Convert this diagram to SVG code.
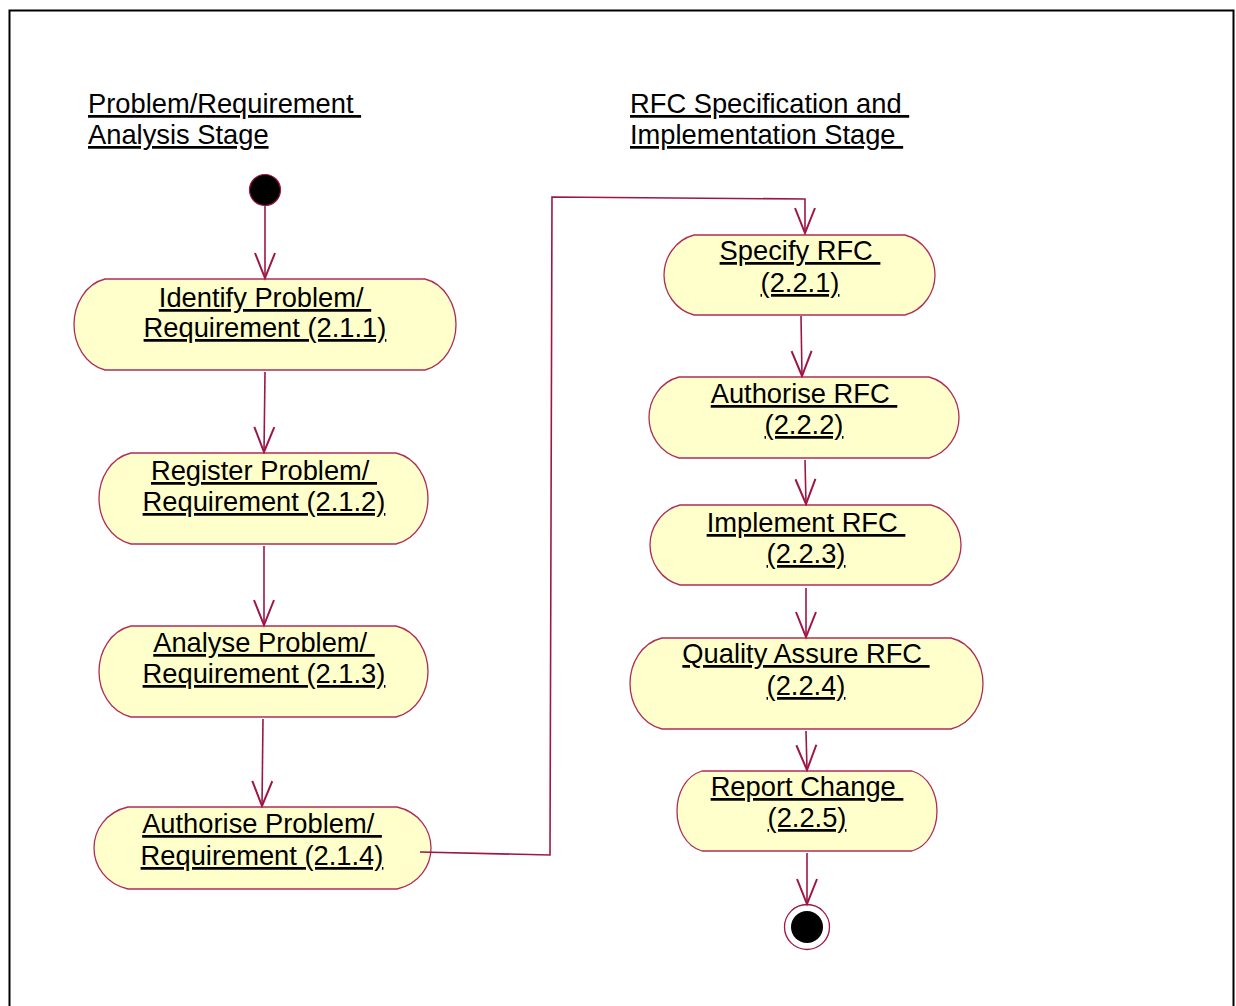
<svg xmlns="http://www.w3.org/2000/svg" width="1236" height="1006" viewBox="0 0 1236 1006">
<style>
  .frame { fill: #ffffff; stroke: #000000; stroke-width: 2; }
  .act { fill: #ffffcc; stroke: #b02c58; stroke-width: 1.3; }
  .lbl { font-family: "Liberation Sans", Arial, sans-serif; font-size: 27.3px; fill: #000000; text-decoration: underline; white-space: pre; }
  .mid { text-anchor: middle; }
  .edge { fill: none; stroke: #9e1646; stroke-width: 1.6; }
  .start { fill: #000000; stroke: #9e1646; stroke-width: 1.2; }
  .endring { fill: #ffffff; stroke: #9e1646; stroke-width: 1.3; }
</style>
<defs>
  <marker id="arr" markerUnits="userSpaceOnUse" markerWidth="30" markerHeight="30" viewBox="-22 -11 24 22" refX="0" refY="0" orient="auto">
    <path d="M -20 -8 L 0 0 L -20 8" fill="none" stroke="#9e1646" stroke-width="1.6"/>
  </marker>
</defs>
<rect class="frame" x="9.5" y="10.5" width="1224" height="1010"/>

<g id="title-left">
  <text class="lbl" x="88" y="113" xml:space="preserve">Problem/Requirement </text>
  <text class="lbl" x="88" y="144" xml:space="preserve">Analysis Stage</text>
</g>
<g id="title-right">
  <text class="lbl" x="630" y="113" xml:space="preserve">RFC Specification and </text>
  <text class="lbl" x="630" y="144" xml:space="preserve">Implementation Stage </text>
</g>

<g id="start">
  <circle class="start" cx="265" cy="190" r="15.5"/>
</g>

<g id="n211">
  <path class="act" d="M 105 279 H 425 C 445 284 456 305 456 324.5 C 456 344 445 365 425 370 H 105 C 85 365 74 344 74 324.5 C 74 305 85 284 105 279 Z"/>
  <text class="lbl mid" x="265" y="307" xml:space="preserve">Identify Problem/ </text>
  <text class="lbl mid" x="265" y="337" xml:space="preserve">Requirement (2.1.1)</text>
</g>
<g id="n212">
  <path class="act" d="M 131 453 H 396 C 417 458 428 479 428 498.5 C 428 518 417 539 396 544 H 131 C 110 539 99 518 99 498.5 C 99 479 110 458 131 453 Z"/>
  <text class="lbl mid" x="264" y="480" xml:space="preserve">Register Problem/ </text>
  <text class="lbl mid" x="264" y="511" xml:space="preserve">Requirement (2.1.2)</text>
</g>
<g id="n213">
  <path class="act" d="M 131 626 H 396 C 417 631 428 652 428 671.5 C 428 691 417 712 396 717 H 131 C 110 712 99 691 99 671.5 C 99 652 110 631 131 626 Z"/>
  <text class="lbl mid" x="264" y="652" xml:space="preserve">Analyse Problem/ </text>
  <text class="lbl mid" x="264" y="683" xml:space="preserve">Requirement (2.1.3)</text>
</g>
<g id="n214">
  <path class="act" d="M 128 807 H 397 C 419 812 431 830 431 848 C 431 866 419 884 397 889 H 128 C 106 884 94 866 94 848 C 94 830 106 812 128 807 Z"/>
  <text class="lbl mid" x="262" y="833" xml:space="preserve">Authorise Problem/ </text>
  <text class="lbl mid" x="262" y="865" xml:space="preserve">Requirement (2.1.4)</text>
</g>

<g id="n221">
  <path class="act" d="M 694 235 H 905 C 924 240 935 258 935 275 C 935 292 924 310 905 315 H 694 C 675 310 664 292 664 275 C 664 258 675 240 694 235 Z"/>
  <text class="lbl mid" x="800" y="260" xml:space="preserve">Specify RFC </text>
  <text class="lbl mid" x="800" y="292" xml:space="preserve">(2.2.1)</text>
</g>
<g id="n222">
  <path class="act" d="M 679 377 H 929 C 948 382 959 400 959 417.5 C 959 435 948 453 929 458 H 679 C 660 453 649 435 649 417.5 C 649 400 660 382 679 377 Z"/>
  <text class="lbl mid" x="804" y="403" xml:space="preserve">Authorise RFC </text>
  <text class="lbl mid" x="804" y="434" xml:space="preserve">(2.2.2)</text>
</g>
<g id="n223">
  <path class="act" d="M 680 505 H 931 C 950 510 961 528 961 545 C 961 562 950 580 931 585 H 680 C 661 580 650 562 650 545 C 650 528 661 510 680 505 Z"/>
  <text class="lbl mid" x="806" y="532" xml:space="preserve">Implement RFC </text>
  <text class="lbl mid" x="806" y="563" xml:space="preserve">(2.2.3)</text>
</g>
<g id="n224">
  <path class="act" d="M 662 638 H 951 C 972 643 983 664 983 683.5 C 983 703 972 724 951 729 H 662 C 641 724 630 703 630 683.5 C 630 664 641 643 662 638 Z"/>
  <text class="lbl mid" x="806" y="663" xml:space="preserve">Quality Assure RFC </text>
  <text class="lbl mid" x="806" y="695" xml:space="preserve">(2.2.4)</text>
</g>
<g id="n225">
  <path class="act" d="M 702 771 H 912 C 929 776 937 794 937 811 C 937 828 929 846 912 851 H 702 C 685 846 677 828 677 811 C 677 794 685 776 702 771 Z"/>
  <text class="lbl mid" x="807" y="796" xml:space="preserve">Report Change </text>
  <text class="lbl mid" x="807" y="827" xml:space="preserve">(2.2.5)</text>
</g>

<g id="end">
  <circle class="endring" cx="807" cy="927" r="22.5"/>
  <circle cx="807" cy="927" r="16" fill="#000000"/>
</g>

<g id="connectors">
  <path class="edge" d="M 265 206 L 265 278" marker-end="url(#arr)"/>
  <path class="edge" d="M 265 372 L 264 452" marker-end="url(#arr)"/>
  <path class="edge" d="M 264 546 L 264 625" marker-end="url(#arr)"/>
  <path class="edge" d="M 263 719 L 262 806" marker-end="url(#arr)"/>
  <path class="edge" d="M 420 852 L 550 855 L 552 197 L 805 199 L 805 233" marker-end="url(#arr)"/>
  <path class="edge" d="M 801 316 L 802 376" marker-end="url(#arr)"/>
  <path class="edge" d="M 805 460 L 806 504" marker-end="url(#arr)"/>
  <path class="edge" d="M 806 588 L 806 637" marker-end="url(#arr)"/>
  <path class="edge" d="M 806 731 L 807 770" marker-end="url(#arr)"/>
  <path class="edge" d="M 807 853 L 807 904" marker-end="url(#arr)"/>
</g>
</svg>
